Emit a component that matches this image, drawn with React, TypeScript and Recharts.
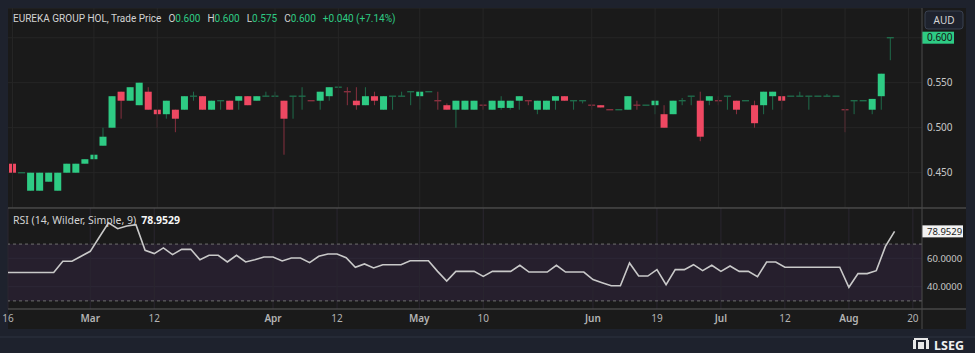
import React from "react";
import {
  ComposedChart,
  Bar,
  Line,
  XAxis,
  YAxis,
  CartesianGrid,
  ReferenceLine,
  ReferenceArea,
} from "recharts";

// daily bars, oldest first
const opens = [
  0.46, 0.45, 0.43, 0.43, 0.44, 0.43, 0.45, 0.45, 0.46, 0.465,
  0.48, 0.5, 0.54, 0.53, 0.525, 0.54, 0.52, 0.515, 0.52, 0.52,
  0.535, 0.535, 0.52, 0.53, 0.53, 0.53, 0.535, 0.53, 0.535, 0.535,
  0.53, 0.535, 0.535, 0.53, 0.53, 0.535, 0.545, 0.54, 0.53, 0.525,
  0.535, 0.52, 0.535, 0.535, 0.54, 0.535, 0.54, 0.53, 0.525, 0.52,
  0.52, 0.52, 0.525, 0.52, 0.522, 0.522, 0.53, 0.53, 0.52, 0.52,
  0.53, 0.535, 0.53, 0.53, 0.525, 0.525, 0.52, 0.52, 0.52, 0.525,
  0.525, 0.525, 0.515, 0.515, 0.53, 0.535, 0.53, 0.53, 0.53, 0.535,
  0.53, 0.53, 0.525, 0.525, 0.535, 0.535, 0.535, 0.535, 0.535, 0.535,
  0.535, 0.535, 0.52, 0.53, 0.53, 0.52, 0.535, 0.6,
];
const highs = [
  0.46, 0.45, 0.45, 0.45, 0.45, 0.45, 0.46, 0.46, 0.465, 0.47,
  0.5, 0.535, 0.54, 0.545, 0.55, 0.545, 0.52, 0.53, 0.52, 0.535,
  0.54, 0.535, 0.53, 0.53, 0.53, 0.535, 0.535, 0.535, 0.54, 0.54,
  0.53, 0.535, 0.545, 0.53, 0.54, 0.545, 0.545, 0.545, 0.545, 0.545,
  0.54, 0.535, 0.535, 0.54, 0.54, 0.54, 0.54, 0.54, 0.527, 0.53,
  0.53, 0.53, 0.525, 0.53, 0.535, 0.53, 0.535, 0.53, 0.53, 0.53,
  0.535, 0.535, 0.53, 0.53, 0.525, 0.525, 0.52, 0.52, 0.535, 0.53,
  0.525, 0.53, 0.525, 0.53, 0.533, 0.535, 0.54, 0.535, 0.535, 0.535,
  0.53, 0.53, 0.53, 0.54, 0.54, 0.535, 0.535, 0.54, 0.535, 0.535,
  0.5375, 0.535, 0.52, 0.53, 0.53, 0.532, 0.56, 0.6,
];
const lows = [
  0.43, 0.45, 0.43, 0.43, 0.44, 0.43, 0.45, 0.45, 0.46, 0.465,
  0.48, 0.5, 0.51, 0.53, 0.525, 0.52, 0.5, 0.51, 0.495, 0.52,
  0.53, 0.52, 0.52, 0.52, 0.52, 0.52, 0.525, 0.53, 0.535, 0.535,
  0.47, 0.51, 0.52, 0.53, 0.52, 0.53, 0.545, 0.525, 0.52, 0.525,
  0.525, 0.52, 0.52, 0.535, 0.525, 0.52, 0.54, 0.52, 0.52, 0.5,
  0.52, 0.52, 0.52, 0.52, 0.52, 0.52, 0.52, 0.525, 0.515, 0.52,
  0.52, 0.53, 0.52, 0.527, 0.52, 0.5225, 0.52, 0.52, 0.52, 0.52,
  0.525, 0.515, 0.5, 0.515, 0.525, 0.525, 0.485, 0.525, 0.525, 0.52,
  0.515, 0.53, 0.5, 0.515, 0.52, 0.52, 0.535, 0.535, 0.52, 0.535,
  0.535, 0.535, 0.495, 0.515, 0.53, 0.515, 0.52, 0.575,
];
const closes = [
  0.45, 0.45, 0.45, 0.45, 0.45, 0.45, 0.46, 0.46, 0.465, 0.47,
  0.49, 0.535, 0.53, 0.545, 0.55, 0.52, 0.515, 0.53, 0.51, 0.535,
  0.535, 0.52, 0.53, 0.53, 0.52, 0.535, 0.525, 0.535, 0.535, 0.535,
  0.51, 0.535, 0.535, 0.53, 0.54, 0.545, 0.545, 0.54, 0.525, 0.535,
  0.53, 0.535, 0.535, 0.535, 0.54, 0.54, 0.54, 0.53, 0.52, 0.53,
  0.53, 0.53, 0.525, 0.53, 0.53, 0.53, 0.535, 0.53, 0.53, 0.53,
  0.535, 0.53, 0.53, 0.53, 0.525, 0.5225, 0.52, 0.52, 0.535, 0.525,
  0.525, 0.53, 0.5, 0.53, 0.53, 0.535, 0.49, 0.535, 0.53, 0.535,
  0.52, 0.53, 0.505, 0.54, 0.54, 0.53, 0.535, 0.535, 0.535, 0.535,
  0.535, 0.535, 0.52, 0.53, 0.53, 0.532, 0.56, 0.6,
];
const rsiValues = [
  50, 50, 50, 50, 50, 50, 57.9, 57.9, 61.4, 64.9,
  75, 84.9, 80.8, 82.7, 83.7, 65.6, 63.3, 67.3, 62.6, 66.3,
  66.3, 59.0, 62.1, 62.1, 57.4, 62.1, 57.4, 59.0, 60.9, 60.9,
  58.1, 60.2, 60.2, 56.9, 61.4, 63.0, 63.0, 60.4, 53.7, 56.0,
  53.2, 55.5, 55.5, 55.5, 58.3, 58.3, 58.3, 50.8, 44.0, 50.8,
  50.8, 50.8, 47.3, 50.8, 50.8, 50.8, 55.1, 50.3, 50.3, 50.3,
  55.1, 50.3, 50.3, 50.3, 45.0, 42.8, 40.7, 40.7, 56.7, 47.5,
  47.5, 52.0, 41.4, 52.0, 52.0, 55.5, 51.3, 55.1, 50.8, 54.6,
  50.8, 50.8, 47.0, 57.4, 57.4, 53.7, 53.7, 53.7, 53.7, 53.7,
  53.7, 53.7, 39.6, 49.2, 49.2, 51.3, 68.4, 78.9529,
];

const tickIndex = [0, 9, 16, 29, 36, 45, 52, 64, 71, 78, 85, 92, 99];
const tickText = ["16", "Mar", "12", "Apr", "12", "May", "10", "Jun", "19", "Jul", "12", "Aug", "20"];
const priceTicks = [0.45, 0.5, 0.55, 0.6];
const rsiTicks = [40, 60];
const slots = 101; // bar slots on the time axis, incl. empty space on the right

const UP = "#2ecb84";
const DOWN = "#ef4862";
const UP_WICK = "#1f6b4a";
const DOWN_WICK = "#87303f";
const GRID = "#262626";
const FONT = "'Noto Sans', sans-serif";

const lastClose = closes[closes.length - 1];
const lastRsi = rsiValues[rsiValues.length - 1];

const rows = Array.from({ length: slots }, (_, i) => {
  if (i >= closes.length) return { i };
  const o = opens[i];
  const c = closes[i];
  const prev = i > 0 ? closes[i - 1] : c;
  const up = c > o || (c === o && c >= prev);
  return { i, o, h: highs[i], l: lows[i], c, up, range: [lows[i], highs[i]], rsi: rsiValues[i] };
});

const Candle = (props: any) => {
  const { x, y, width, height, payload } = props;
  if (!payload || payload.o == null) return null;
  const { o, h, l, c, up } = payload;
  const top = Math.min(y, y + height);
  const bot = Math.max(y, y + height);
  const py = (v: number) => (h === l ? top : top + ((h - v) / (h - l)) * (bot - top));
  const cx = x + width / 2;
  const yo = py(o);
  const yc = py(c);
  const bt = Math.min(yo, yc);
  const bb = Math.max(yo, yc);
  const wick = up ? UP_WICK : DOWN_WICK;
  return (
    <g>
      {bot - top > 0.5 && <line x1={cx} x2={cx} y1={top} y2={bot} stroke={wick} strokeWidth={1} />}
      {bb - bt >= 1 ? (
        <rect x={x} y={bt} width={width} height={bb - bt} fill={up ? UP : DOWN} />
      ) : (
        <line x1={x} x2={x + width} y1={bt} y2={bt} stroke={wick} strokeWidth={1.4} />
      )}
    </g>
  );
};

const PriceTick = ({ x, y, payload }: any) => {
  const v = payload.value;
  if (v === lastClose) {
    return (
      <g>
        <rect x={x - 5} y={y - 6} width={32} height={12} fill={UP} />
        <text x={x} y={y} dy={3.5} fontSize={10} fill="#141414" fontFamily={FONT}>
          {v.toFixed(3)}
        </text>
      </g>
    );
  }
  return (
    <text x={x} y={y} dy={3.5} fontSize={10} fill="#c8c8c8" fontFamily={FONT}>
      {v.toFixed(3)}
    </text>
  );
};

const RsiTick = ({ x, y, payload }: any) => {
  const v = payload.value;
  if (v === lastRsi) {
    return (
      <g>
        <rect x={x - 5} y={y - 6} width={41} height={12} fill="#f2f2f2" />
        <text x={x} y={y} dy={3.5} fontSize={9.5} fill="#1a1a1a" fontFamily={FONT}>
          {v.toFixed(4)}
        </text>
      </g>
    );
  }
  return (
    <text x={x} y={y} dy={3.5} fontSize={9.5} fill="#c8c8c8" fontFamily={FONT}>
      {v.toFixed(4)}
    </text>
  );
};

const TimeTick = ({ x, y, payload }: any) => {
  const label = tickText[tickIndex.indexOf(payload.value)] ?? "";
  const month = /[A-Za-z]/.test(label);
  return (
    <text x={x} y={y} dy={9} textAnchor="middle" fontSize={10} fontWeight={month ? 600 : 400} fill="#b4b4b4" fontFamily={FONT}>
      {label}
    </text>
  );
};

const hdr: React.CSSProperties = {
  position: "absolute",
  top: 12,
  fontSize: 10,
  lineHeight: "14px",
  fontFamily: "Roboto, sans-serif",
  color: "#d3d3d3",
  whiteSpace: "nowrap",
  display: "flex",
  gap: 7,
};
const val: React.CSSProperties = { color: UP };

export default function App() {
  return (
    <div style={{ position: "absolute", left: 0, top: 0, width: 975, height: 353, background: "#1e222d", overflow: "hidden" }}>
      <div style={{ position: "absolute", left: 8, top: 8, width: 958, height: 321, background: "#1a1a1a" }} />

      <div style={{ position: "absolute", left: 8, top: 8 }}>
        <ComposedChart width={958} height={200} data={rows} margin={{ top: 0, right: 0, bottom: 0, left: 0 }} barSize={7}>
          <CartesianGrid vertical={false} stroke={GRID} />
          {tickIndex.map((t) => (
            <ReferenceLine key={t} x={t} stroke={GRID} />
          ))}
          <XAxis dataKey="i" hide />
          <YAxis
            orientation="right"
            width={44}
            type="number"
            domain={[0.4108, 0.633]}
            allowDataOverflow
            ticks={priceTicks}
            interval={0}
            tick={<PriceTick />}
            tickSize={0}
            tickMargin={5}
            axisLine={false}
          />
          <Bar dataKey="range" shape={<Candle />} isAnimationActive={false} />
        </ComposedChart>
      </div>

      <div style={{ position: "absolute", left: 0, top: 208 }}>
        <ComposedChart width={966} height={121} data={rows} margin={{ top: 0, right: 0, bottom: 0, left: 8 }}>
          <ReferenceArea y1={30} y2={70} fill="#261f2d" fillOpacity={1} stroke="none" />
          {rsiTicks.map((v) => (
            <ReferenceLine key={v} y={v} stroke="#2d2837" />
          ))}
          {tickIndex.map((t) => (
            <ReferenceLine key={t} x={t} stroke="#2a2630" />
          ))}
          <ReferenceLine y={70} stroke="#6e6e6e" strokeDasharray="3 3" />
          <ReferenceLine y={30} stroke="#6e6e6e" strokeDasharray="3 3" />
          <XAxis
            dataKey="i"
            ticks={tickIndex}
            interval={0}
            tick={<TimeTick />}
            tickSize={0}
            tickMargin={4}
            axisLine={false}
            height={20}
          />
          <YAxis
            orientation="right"
            width={44}
            type="number"
            domain={[24.3, 95.4]}
            allowDataOverflow
            ticks={[...rsiTicks, lastRsi]}
            interval={0}
            tick={<RsiTick />}
            tickSize={0}
            tickMargin={5}
            axisLine={false}
          />
          <Line dataKey="rsi" type="linear" stroke="#c9c9c9" strokeWidth={1.6} dot={false} isAnimationActive={false} />
        </ComposedChart>
      </div>

      <svg style={{ position: "absolute", left: 0, top: 0 }} width={975} height={353}>
        <line x1={8} x2={966} y1={208} y2={208} stroke="#5c5c5c" strokeWidth={1.2} />
        <line x1={8} x2={966} y1={309} y2={309} stroke="#5c5c5c" strokeWidth={1.2} />
        <line x1={922} x2={922} y1={8} y2={329} stroke="#4a4a4a" strokeWidth={1} />
        <line x1={0} x2={975} y1={337} y2={337} stroke="#2c3240" strokeWidth={1} />
        <rect x={925} y={11} width={38} height={18} rx={3} fill="#1e222d" stroke="#394050" />
        <text x={944} y={23.5} textAnchor="middle" fontSize={10} fill="#d6d6d6" fontFamily={FONT}>AUD</text>
        <g fill="#e8e8e8">
          <rect x={913} y={340} width={3} height={9} />
          <rect x={918} y={342} width={6} height={7} />
          <rect x={926} y={340} width={3} height={9} />
          <rect x={914} y={338} width={14} height={2} />
        </g>
        <text x={934} y={350} fontSize={12.5} fontWeight={700} fill="#f0f0f0" fontFamily={FONT}>LSEG</text>
      </svg>

      <div style={{ ...hdr, left: 13 }}>
        <span>EUREKA GROUP HOL, Trade Price</span>
        <span>O<span style={val}>0.600</span></span>
        <span>H<span style={val}>0.600</span></span>
        <span>L<span style={val}>0.575</span></span>
        <span>C<span style={val}>0.600</span></span>
        <span style={val}>+0.040 (+7.14%)</span>
      </div>

      <div style={{ ...hdr, top: 213, left: 13, fontFamily: FONT, fontSize: 10.5, gap: 5 }}>
        <span>RSI (14, Wilder, Simple, 9)</span>
        <span style={{ color: "#f5f5f5", fontWeight: 700 }}>78.9529</span>
      </div>
    </div>
  );
}
